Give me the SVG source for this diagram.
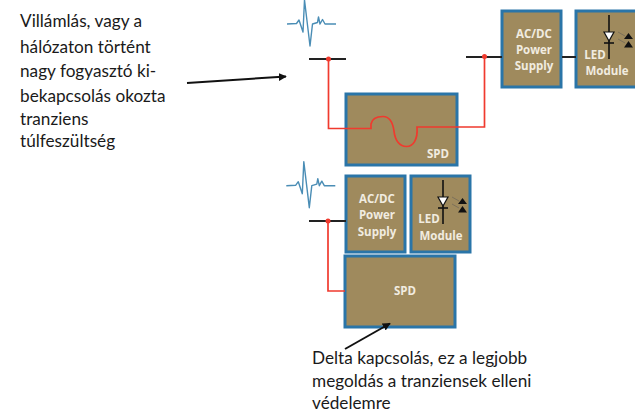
<svg xmlns="http://www.w3.org/2000/svg" width="635" height="413" viewBox="0 0 635 413">
<defs>
<marker id="ah" viewBox="0 0 10 10" refX="9" refY="5" markerWidth="8" markerHeight="8" orient="auto" markerUnits="userSpaceOnUse"><path d="M0 0L10 5L0 10z" fill="#111"/></marker>
<g id="surge"><path d="M287 24L296.500 23.500L299 20L303 32L304.500 0L310 46L312.500 24L317.500 22.500L318.500 17L320 24L322.500 19.500L325 24L336 24" fill="none" stroke="#4a8db5" stroke-width="1.4" stroke-linejoin="round"/></g>
<g id="led" fill="none" stroke="#111">
<path d="M0 -22V22" stroke-width="1.6"/><path d="M-5 -5H5L0 4z" fill="#fff" stroke-width="1.2"/><path d="M-5 6H5" stroke-width="1.6"/>
<path d="M9 -5L16 -1M9 2L16 6" stroke="#7d715a" stroke-width="1"/><path d="M19.500 -4L24 2H15zM19.500 4L24 10.500H15z" fill="#111" stroke="none"/>
</g>
</defs>
<style>
.box{fill:#9f8a5d;stroke:#2a75a8;stroke-width:3}
.t{font-family:"Lato","Liberation Sans",Arial,sans-serif;font-size:17.200px;fill:#1a1a1a}
.w{font-family:"Open Sans","Liberation Sans",sans-serif;font-size:11.500px;font-weight:700;fill:#f1ece0;text-anchor:middle}
.k{stroke:#222;stroke-width:2;fill:none}
.r{stroke:#f03a2e;stroke-width:1.7;fill:none}
.d{fill:#f03a2e}
</style>
<g id="label-top"><text class="t"><tspan x="20" y="27">Villámlás, vagy a</tspan><tspan x="20" y="53">hálózaton történt</tspan><tspan x="20" y="77">nagy fogyasztó ki-</tspan><tspan x="20" y="102">bekapcsolás okozta</tspan><tspan x="20" y="125">tranziens</tspan><tspan x="20" y="147">túlfeszültség</tspan></text></g>
<g id="label-bottom"><text class="t"><tspan x="312" y="364">Delta kapcsolás, ez a legjobb</tspan><tspan x="312" y="387">megoldás a tranziensek elleni</tspan><tspan x="312" y="409">védelemre</tspan></text></g>
<g id="surge-top"><use href="#surge"/></g>
<g id="surge-bottom"><use href="#surge" x="-0.700" y="161.700"/></g>
<g id="spd-top"><rect class="box" x="346" y="94" width="111" height="71"/><text class="w" x="438" y="158">SPD</text></g>
<g id="psu-top"><rect class="box" x="502" y="11" width="59" height="76"/><text class="w"><tspan x="534" y="38">AC/DC</tspan><tspan x="534" y="54">Power</tspan><tspan x="534" y="70">Supply</tspan></text></g>
<g id="led-top"><rect class="box" x="576" y="11" width="62" height="76"/><use href="#led" x="609" y="37"/><text class="w"><tspan x="595" y="59">LED</tspan><tspan x="607" y="75">Module</tspan></text></g>
<g id="psu-bottom"><rect class="box" x="346" y="176" width="59" height="76"/><text class="w"><tspan x="377" y="203">AC/DC</tspan><tspan x="377" y="219">Power</tspan><tspan x="377" y="236">Supply</tspan></text></g>
<g id="led-bottom"><rect class="box" x="411" y="176" width="59" height="76"/><use href="#led" x="443" y="202"/><text class="w"><tspan x="429" y="223">LED</tspan><tspan x="441" y="240">Module</tspan></text></g>
<g id="spd-bottom"><rect class="box" x="345" y="256" width="110" height="71"/><text class="w" x="405" y="295">SPD</text></g>
<g id="connectors">
<path class="k" d="M309 59H346"/><path class="k" d="M466 57H502"/><path class="k" d="M562 57H576"/><path class="k" d="M309 221H346"/>
<path class="r" d="M328.500 59V128.500H371V124C372 119 377 116.500 383 116.500C391 116.500 393 124 394 131C395 141 400 146.500 406.500 146.500C413 146.500 418 140 417 127H484.500V57"/>
<path class="r" d="M328 221V291H345"/>
<circle class="d" cx="328.500" cy="59" r="2.500"/><circle class="d" cx="484.500" cy="56.500" r="2.500"/><circle class="d" cx="328" cy="221" r="2.500"/>
<path d="M187 83L286 76.500" stroke="#111" stroke-width="2" fill="none" marker-end="url(#ah)"/>
<path d="M345 349L390 323.500" stroke="#111" stroke-width="2" fill="none" marker-end="url(#ah)"/>
</g>
</svg>
